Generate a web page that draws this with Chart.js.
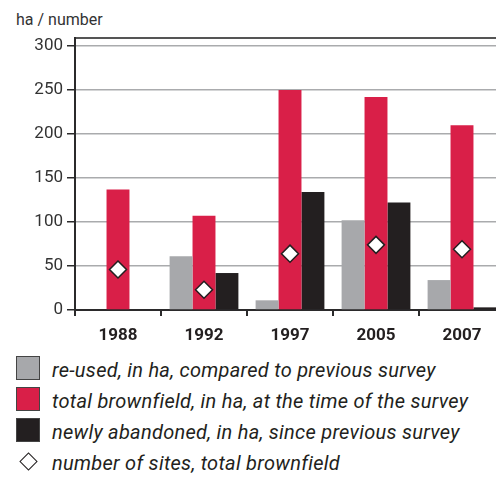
<!DOCTYPE html>
<html>
<head>
<meta charset="utf-8">
<script src="https://cdn.jsdelivr.net/npm/chart.js@4/dist/chart.umd.min.js"></script>
<style>
  html, body { margin: 0; padding: 0; background: #fff; overflow: hidden; width: 496px; height: 477px; }
  #unit { position: absolute; left: 16px; top: 10px; font: 16px Roboto, sans-serif; color: #333; }
  #chart { position: absolute; left: 0; top: 0; }
  #legend { position: absolute; left: 16px; top: 356px; font: italic 20px Roboto, sans-serif; letter-spacing: 0.28px; color: #231f20; }
  .row { display: flex; align-items: flex-start; height: 31px; }
  .mark { width: 24px; height: 24px; flex: none; display: flex; align-items: center; justify-content: center; }
  .swatch { width: 22px; height: 22px; border: 1px solid #444; }
  .diamond { width: 11px; height: 11px; border: 1.5px solid #231f20; transform: rotate(45deg); background: #fff; }
  .label { margin-left: 12px; position: relative; top: 3px; line-height: 23px; white-space: nowrap; }
</style>
</head>
<body>
<div id="unit">ha / number</div>
<canvas id="chart" width="515" height="345"></canvas>
<div id="legend"></div>
<script>
const years = ['1988', '1992', '1997', '2005', '2007'];
const reused = [0, 61, 11, 102, 34];
const totalBrownfield = [137, 107, 250, 242, 210];
const abandoned = [0, 42, 134, 122, 3];
const sites = [46, 23, 64, 74, 69];
const yTicks = [0, 50, 100, 150, 200, 250, 300];

const labels = {
  reused: 're-used, in ha, compared to previous survey',
  total: 'total brownfield, in ha, at the time of the survey',
  abandoned: 'newly abandoned, in ha, since previous survey',
  sites: 'number of sites, total brownfield',
};

const dark = '#2b2a2b';

function noPad(s) {
  s.paddingLeft = 0;
  s.paddingRight = 0;
}

const chart = new Chart(document.getElementById('chart'), {
  data: {
    labels: years,
    datasets: [
      { type: 'bar', label: labels.reused, data: reused, backgroundColor: '#a7a8ab', order: 1 },
      { type: 'bar', label: labels.total, data: totalBrownfield, backgroundColor: '#d91f48', order: 1 },
      { type: 'bar', label: labels.abandoned, data: abandoned, backgroundColor: '#231f20', order: 1 },
      {
        type: 'line', label: labels.sites, data: sites, showLine: false, order: 0,
        pointStyle: 'rectRot', pointRadius: 8.5, pointBackgroundColor: '#fff',
        pointBorderColor: '#231f20', pointBorderWidth: 1.5,
      },
    ],
  },
  options: {
    responsive: false,
    animation: false,
    layout: { padding: { top: 38, left: 0, right: 0, bottom: 0 } },
    datasets: { bar: { categoryPercentage: 0.8, barPercentage: 1 } },
    plugins: { legend: { display: false }, tooltip: { enabled: false } },
    scales: {
      x: {
        grid: { drawOnChartArea: false, tickLength: 6, tickColor: dark, lineWidth: 2 },
        border: { color: dark, width: 2 },
        ticks: { padding: 10, color: '#231f20', font: { family: 'Roboto', size: 17, weight: 'bold' } },
        afterFit: s => { s.height = 35; noPad(s); },
      },
      x2: {
        position: 'top',
        grid: { display: false },
        border: { color: '#555', width: 2 },
        ticks: { display: false },
        afterFit: s => { s.height = 0; noPad(s); },
      },
      y: {
        min: 0,
        max: 309,
        afterBuildTicks: s => { s.ticks = yTicks.map(v => ({ value: v })); },
        grid: { color: '#aaabad', lineWidth: 1.5, tickLength: 8, tickColor: dark },
        border: { color: dark, width: 2 },
        ticks: { padding: 4, color: '#333', font: { family: 'Roboto', size: 17 } },
        afterFit: s => { s.width = 75; },
      },
    },
  },
});

const legend = document.getElementById('legend');
chart.data.datasets.forEach(ds => {
  const row = document.createElement('div');
  row.className = 'row';
  const mark = document.createElement('div');
  mark.className = 'mark';
  const shape = document.createElement('div');
  if (ds.type === 'bar') {
    shape.className = 'swatch';
    shape.style.background = ds.backgroundColor;
  } else {
    shape.className = 'diamond';
  }
  mark.appendChild(shape);
  const text = document.createElement('span');
  text.className = 'label';
  text.textContent = ds.label;
  row.append(mark, text);
  legend.appendChild(row);
});
</script>
</body>
</html>
